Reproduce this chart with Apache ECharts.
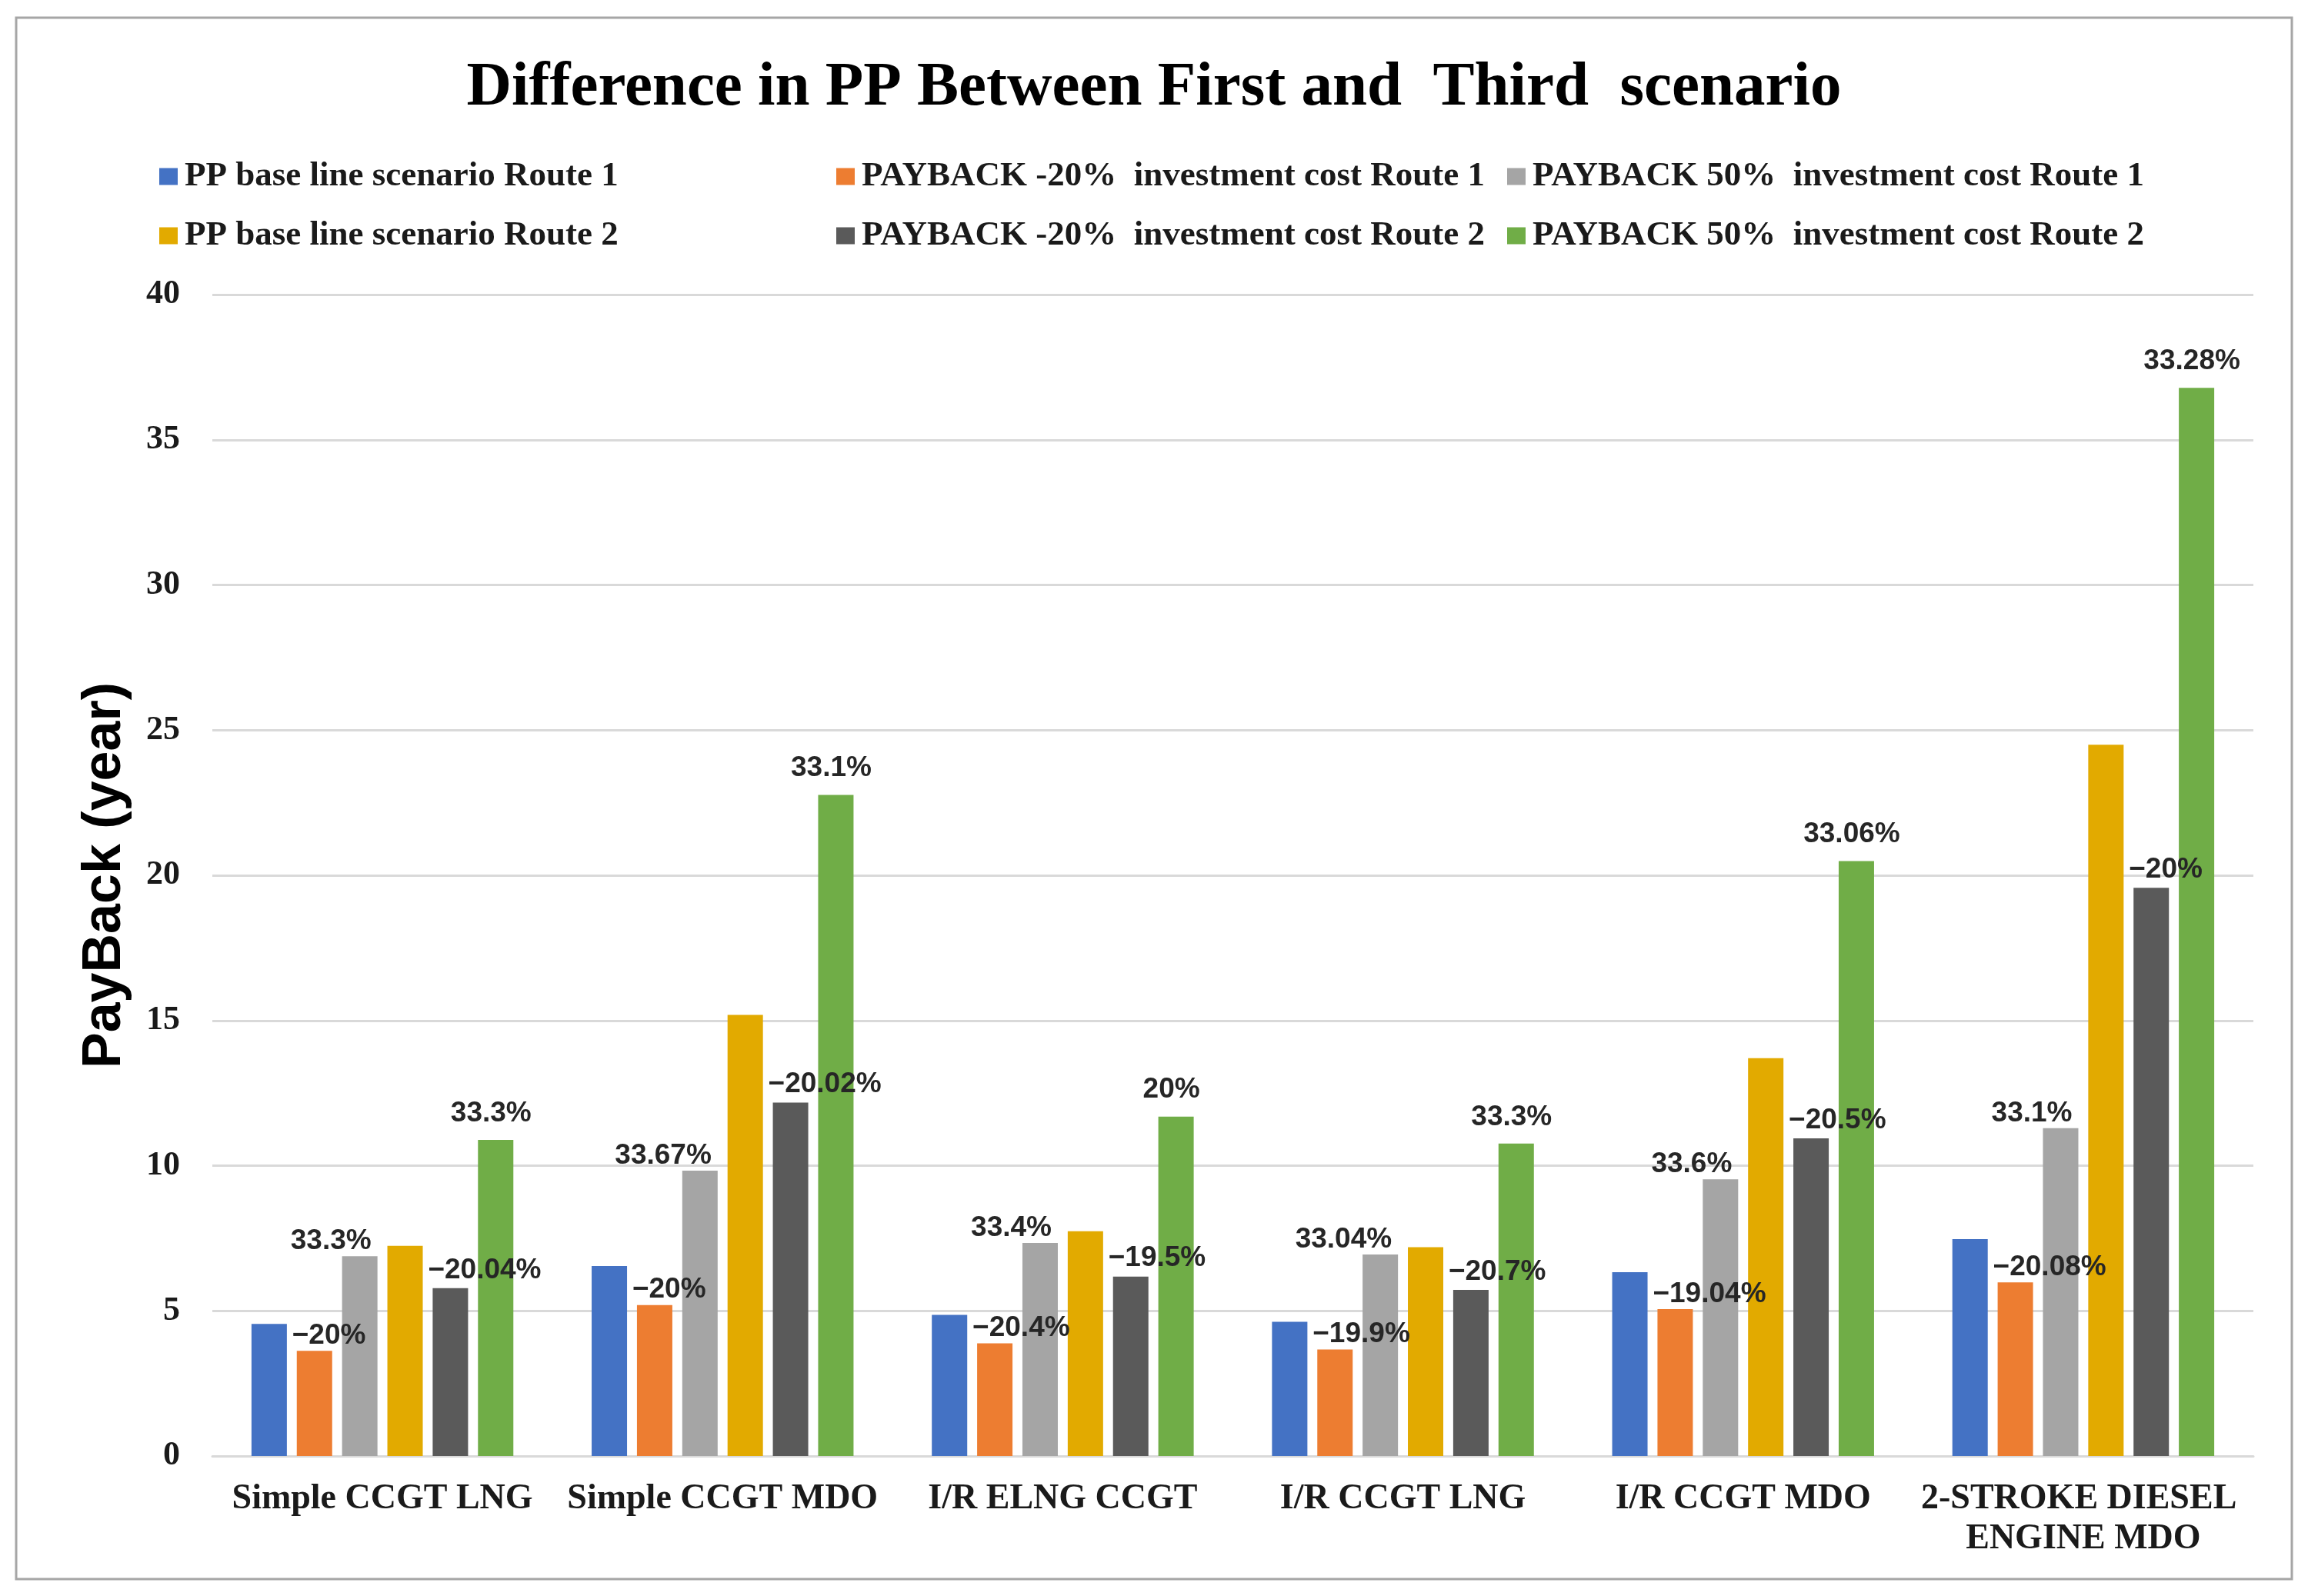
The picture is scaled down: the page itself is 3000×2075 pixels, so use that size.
<!DOCTYPE html>
<html>
<head>
<meta charset="utf-8">
<script src="https://cdn.jsdelivr.net/npm/echarts@6/dist/echarts.min.js"></script>
<style>
html,body{margin:0;padding:0;background:#fff;}
#chart{width:3000px;height:2075px;}
</style>
</head>
<body>
<div id="chart"></div>
<script>
const categories = ['Simple CCGT LNG', 'Simple CCGT MDO', 'I/R ELNG CCGT', 'I/R CCGT LNG', 'I/R CCGT MDO', '2-STROKE DIESEL ENGINE MDO'];

const seriesNames = [
  'PP base line scenario Route 1',
  'PAYBACK -20%  investment cost Route 1',
  'PAYBACK 50%  investment cost Route 1',
  'PP base line scenario Route 2',
  'PAYBACK -20%  investment cost Route 2',
  'PAYBACK 50%  investment cost Route 2'
];

const baseRoute1 = [4.55, 6.54, 4.86, 4.62, 6.33, 7.47];
const minus20Route1 = [3.62, 5.20, 3.88, 3.67, 5.06, 5.98];
const plus50Route1 = [6.88, 9.83, 7.34, 6.94, 9.53, 11.29];
const baseRoute2 = [7.24, 15.19, 7.74, 7.19, 13.70, 24.50];
const minus20Route2 = [5.78, 12.17, 6.18, 5.72, 10.94, 19.57];
const plus50Route2 = [10.89, 22.77, 11.69, 10.76, 20.49, 36.79];

const minus20Route1Labels = ['\u221220%', '\u221220%', '\u221220.4%', '\u221219.9%', '\u221219.04%', '\u221220.08%'];
const plus50Route1Labels = ['33.3%', '33.67%', '33.4%', '33.04%', '33.6%', '33.1%'];
const minus20Route2Labels = ['\u221220.04%', '\u221220.02%', '\u221219.5%', '\u221220.7%', '\u221220.5%', '\u221220%'];
const plus50Route2Labels = ['33.3%', '33.1%', '20%', '33.3%', '33.06%', '33.28%'];

const yTicks = { min: 0, max: 40, interval: 5 };

const colors = ['#4472C4', '#ED7D31', '#A5A5A5', '#E2AA00', '#5A5A5A', '#70AD47'];

const serif = '"Liberation Serif", "Times New Roman", serif';
const sans = '"Liberation Sans", Arial, sans-serif';

const labelBase = {
  show: true,
  position: 'top',
  fontFamily: sans,
  fontWeight: 'bold',
  fontSize: 37,
  color: '#262626'
};

function mkLabel(arr, extra) {
  return Object.assign({}, labelBase, extra, {
    formatter: function (p) { return arr[p.dataIndex]; }
  });
}

const allData = [baseRoute1, minus20Route1, plus50Route1, baseRoute2, minus20Route2, plus50Route2];
const labelCfg = [
  { show: false },
  mkLabel(minus20Route1Labels, { align: 'left', offset: [-29, 0], distance: 1 }),
  mkLabel(plus50Route1Labels, { align: 'right', offset: [15, 0], distance: 1 }),
  { show: false },
  mkLabel(minus20Route2Labels, { align: 'left', offset: [-29, 0], distance: 5 }),
  mkLabel(plus50Route2Labels, { align: 'center', offset: [-6, 0], distance: 16 })
];

const series = seriesNames.map(function (name, i) {
  return {
    name: name,
    type: 'bar',
    data: allData[i],
    barWidth: 46,
    barGap: '28%',
    itemStyle: { color: colors[i] },
    label: labelCfg[i],
    emphasis: { disabled: true }
  };
});

const legendPos = [
  { left: 207, top: 207 },
  { left: 1087, top: 207 },
  { left: 1959, top: 207 },
  { left: 207, top: 284 },
  { left: 1087, top: 284 },
  { left: 1959, top: 284 }
];

const legends = seriesNames.map(function (name, i) {
  return {
    data: [name],
    left: legendPos[i].left,
    top: legendPos[i].top,
    orient: 'horizontal',
    padding: 0,
    itemWidth: 24,
    itemHeight: 22,
    icon: 'rect',
    selectedMode: false,
    textStyle: {
      fontFamily: serif,
      fontWeight: 'bold',
      fontSize: 45,
      color: '#1a1a1a',
      padding: [0, 0, 0, 4]
    }
  };
});

const chart = echarts.init(document.getElementById('chart'), null, { renderer: 'canvas' });
chart.setOption({
  animation: false,
  backgroundColor: '#ffffff',
  title: {
    text: 'Difference in PP Between First and  Third  scenario',
    left: 'center',
    top: 70,
    textStyle: {
      fontFamily: serif,
      fontWeight: 'bold',
      fontSize: 81,
      color: '#000'
    }
  },
  legend: legends,
  graphic: [{
    type: 'rect',
    shape: { x: 21, y: 23, width: 2958, height: 2030 },
    style: { fill: 'none', stroke: '#a6a6a6', lineWidth: 3 },
    silent: true
  }],
  grid: { left: 276, right: 71, top: 383, bottom: 182, containLabel: false },
  xAxis: {
    type: 'category',
    data: categories,
    axisLine: { show: true, lineStyle: { color: '#d9d9d9', width: 3 } },
    axisTick: { show: false },
    axisLabel: {
      fontFamily: serif,
      fontWeight: 'bold',
      fontSize: 46,
      color: '#1a1a1a',
      margin: 30,
      lineHeight: 52,
      width: 430,
      overflow: 'break',
      interval: 0
    }
  },
  yAxis: {
    type: 'value',
    min: yTicks.min,
    max: yTicks.max,
    interval: yTicks.interval,
    name: 'PayBack (year)',
    nameLocation: 'middle',
    nameGap: 104,
    nameRotate: 90,
    nameTextStyle: {
      fontFamily: sans,
      fontWeight: 'bold',
      fontSize: 70,
      color: '#000'
    },
    axisLine: { show: false },
    axisTick: { show: false },
    axisLabel: {
      fontFamily: serif,
      fontWeight: 'bold',
      fontSize: 44,
      color: '#1a1a1a',
      margin: 42
    },
    splitLine: { show: true, lineStyle: { color: '#d9d9d9', width: 3 } }
  },
  series: series
});
</script>
</body>
</html>
